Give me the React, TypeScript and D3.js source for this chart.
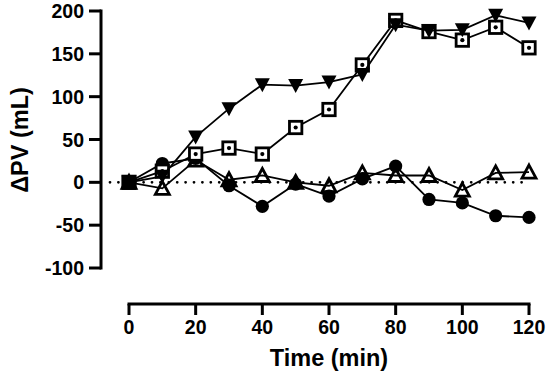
import React from 'react';
import * as d3 from 'd3';

const times = [0, 10, 20, 30, 40, 50, 60, 70, 80, 90, 100, 110, 120];
const circleVals = [0, 22, 28, -4, -28, -2, -16, 4, 19, -20, -24, -39, -41];
const openTriVals = [0, -7, 26, 3, 8, 0, -4, 11, 8, 8, -9, 11, 12];
const squareVals = [0, 13, 33, 40, 33, 64, 85, 137, 189, 176, 166, 181, 157];
const downTriVals = [0, 7, 53, 86, 114, 113, 117, 126, 184, 177, 178, 195, 186];

const yTicks = [-100, -50, 0, 50, 100, 150, 200];
const xTicks = [0, 20, 40, 60, 80, 100, 120];

const font = 'Arial, "Liberation Sans", sans-serif';

const App: React.FC = () => {
    const svgRef = React.useRef(null);

    React.useEffect(() => {
        const svg = d3.select(svgRef.current);
        svg.selectAll('*').remove();

        const x = d3.scaleLinear().domain([0, 120]).range([129, 529]);
        const y = d3.scaleLinear().domain([-100, 200]).range([268, 11]);

        // zero reference line
        svg.append('line')
          .attr('x1', 110).attr('x2', 526)
          .attr('y1', y(0)).attr('y2', y(0))
          .attr('stroke', '#000')
          .attr('stroke-width', 2.8)
          .attr('stroke-linecap', 'round')
          .attr('stroke-dasharray', '0 8.4');

        // y axis
        const yAxis = svg.append('g').attr('transform', 'translate(101,0)');
        yAxis.append('line')
          .attr('y1', y(200) - 1.5).attr('y2', y(-100) + 1.5)
          .attr('stroke', '#000').attr('stroke-width', 3);
        yAxis.selectAll('line.tick')
          .data(yTicks)
          .join('line')
          .attr('class', 'tick')
          .attr('x1', -12).attr('x2', 0)
          .attr('y1', d => y(d)).attr('y2', d => y(d))
          .attr('stroke', '#000').attr('stroke-width', 3);
        yAxis.selectAll('text')
          .data(yTicks)
          .join('text')
          .attr('x', -17)
          .attr('y', d => y(d))
          .attr('dy', '0.36em')
          .attr('text-anchor', 'end')
          .attr('font-family', font)
          .attr('font-weight', 'bold')
          .attr('font-size', 19.5)
          .text(d => `${d}`);

        // x axis
        const xAxis = svg.append('g').attr('transform', 'translate(0,304)');
        xAxis.append('line')
          .attr('x1', x(0) - 1.5).attr('x2', x(120) + 1.5)
          .attr('stroke', '#000').attr('stroke-width', 3);
        xAxis.selectAll('line.tick')
          .data(xTicks)
          .join('line')
          .attr('class', 'tick')
          .attr('x1', d => x(d)).attr('x2', d => x(d))
          .attr('y1', 0).attr('y2', 11)
          .attr('stroke', '#000').attr('stroke-width', 3);
        xAxis.selectAll('text')
          .data(xTicks)
          .join('text')
          .attr('x', d => x(d))
          .attr('y', 30)
          .attr('text-anchor', 'middle')
          .attr('font-family', font)
          .attr('font-weight', 'bold')
          .attr('font-size', 19.5)
          .text(d => `${d}`);

        svg.append('text')
          .attr('x', 329).attr('y', 366)
          .attr('text-anchor', 'middle')
          .attr('font-family', font)
          .attr('font-weight', 'bold')
          .attr('font-size', 23.5)
          .text('Time (min)');

        svg.append('text')
          .attr('transform', 'translate(28,140) rotate(-90)')
          .attr('text-anchor', 'middle')
          .attr('font-family', font)
          .attr('font-weight', 'bold')
          .attr('font-size', 23.5)
          .text('ΔPV (mL)');

        const line = d3.line<number>()
          .x((_, i) => x(times[i]))
          .y(d => y(d));

        const drawSeries = (vals: number[], marker: (g: any) => void) => {
            svg.append('path')
              .attr('d', line(vals))
              .attr('fill', 'none')
              .attr('stroke', '#000')
              .attr('stroke-width', 1.8);
            const pts = svg.append('g')
              .selectAll('g')
              .data(vals)
              .join('g')
              .attr('transform', (d, i) => `translate(${x(times[i])},${y(d)})`);
            marker(pts);
        };

        drawSeries(circleVals, g => {
            g.append('circle').attr('r', 6.6).attr('fill', '#000');
        });

        drawSeries(openTriVals, g => {
            g.append('path')
              .attr('d', 'M0,-7L7,6L-7,6Z')
              .attr('fill', 'none')
              .attr('stroke', '#000')
              .attr('stroke-width', 2.8)
              .attr('stroke-linejoin', 'miter');
        });

        // first point: all four series overlap, drawn as a solid block
        drawSeries(squareVals, g => {
            g.append('rect')
              .attr('x', -6.2).attr('y', -6.2)
              .attr('width', 12.4).attr('height', 12.4)
              .attr('fill', (d, i) => (i === 0 ? '#000' : '#fff'))
              .attr('stroke', '#000')
              .attr('stroke-width', 2.8);
            g.append('circle').attr('r', 2.1).attr('fill', '#000');
        });

        drawSeries(downTriVals, g => {
            g.append('path')
              .attr('d', 'M-7.5,-6.5L7.5,-6.5L0,7.5Z')
              .attr('fill', '#000');
        });
    }, []);

    return (
        <svg
            ref={svgRef}
            width={550}
            height={376}
            style={{ position: 'absolute', left: 0, top: 0, background: '#fff' }}
        />
    );
};

export default App;
